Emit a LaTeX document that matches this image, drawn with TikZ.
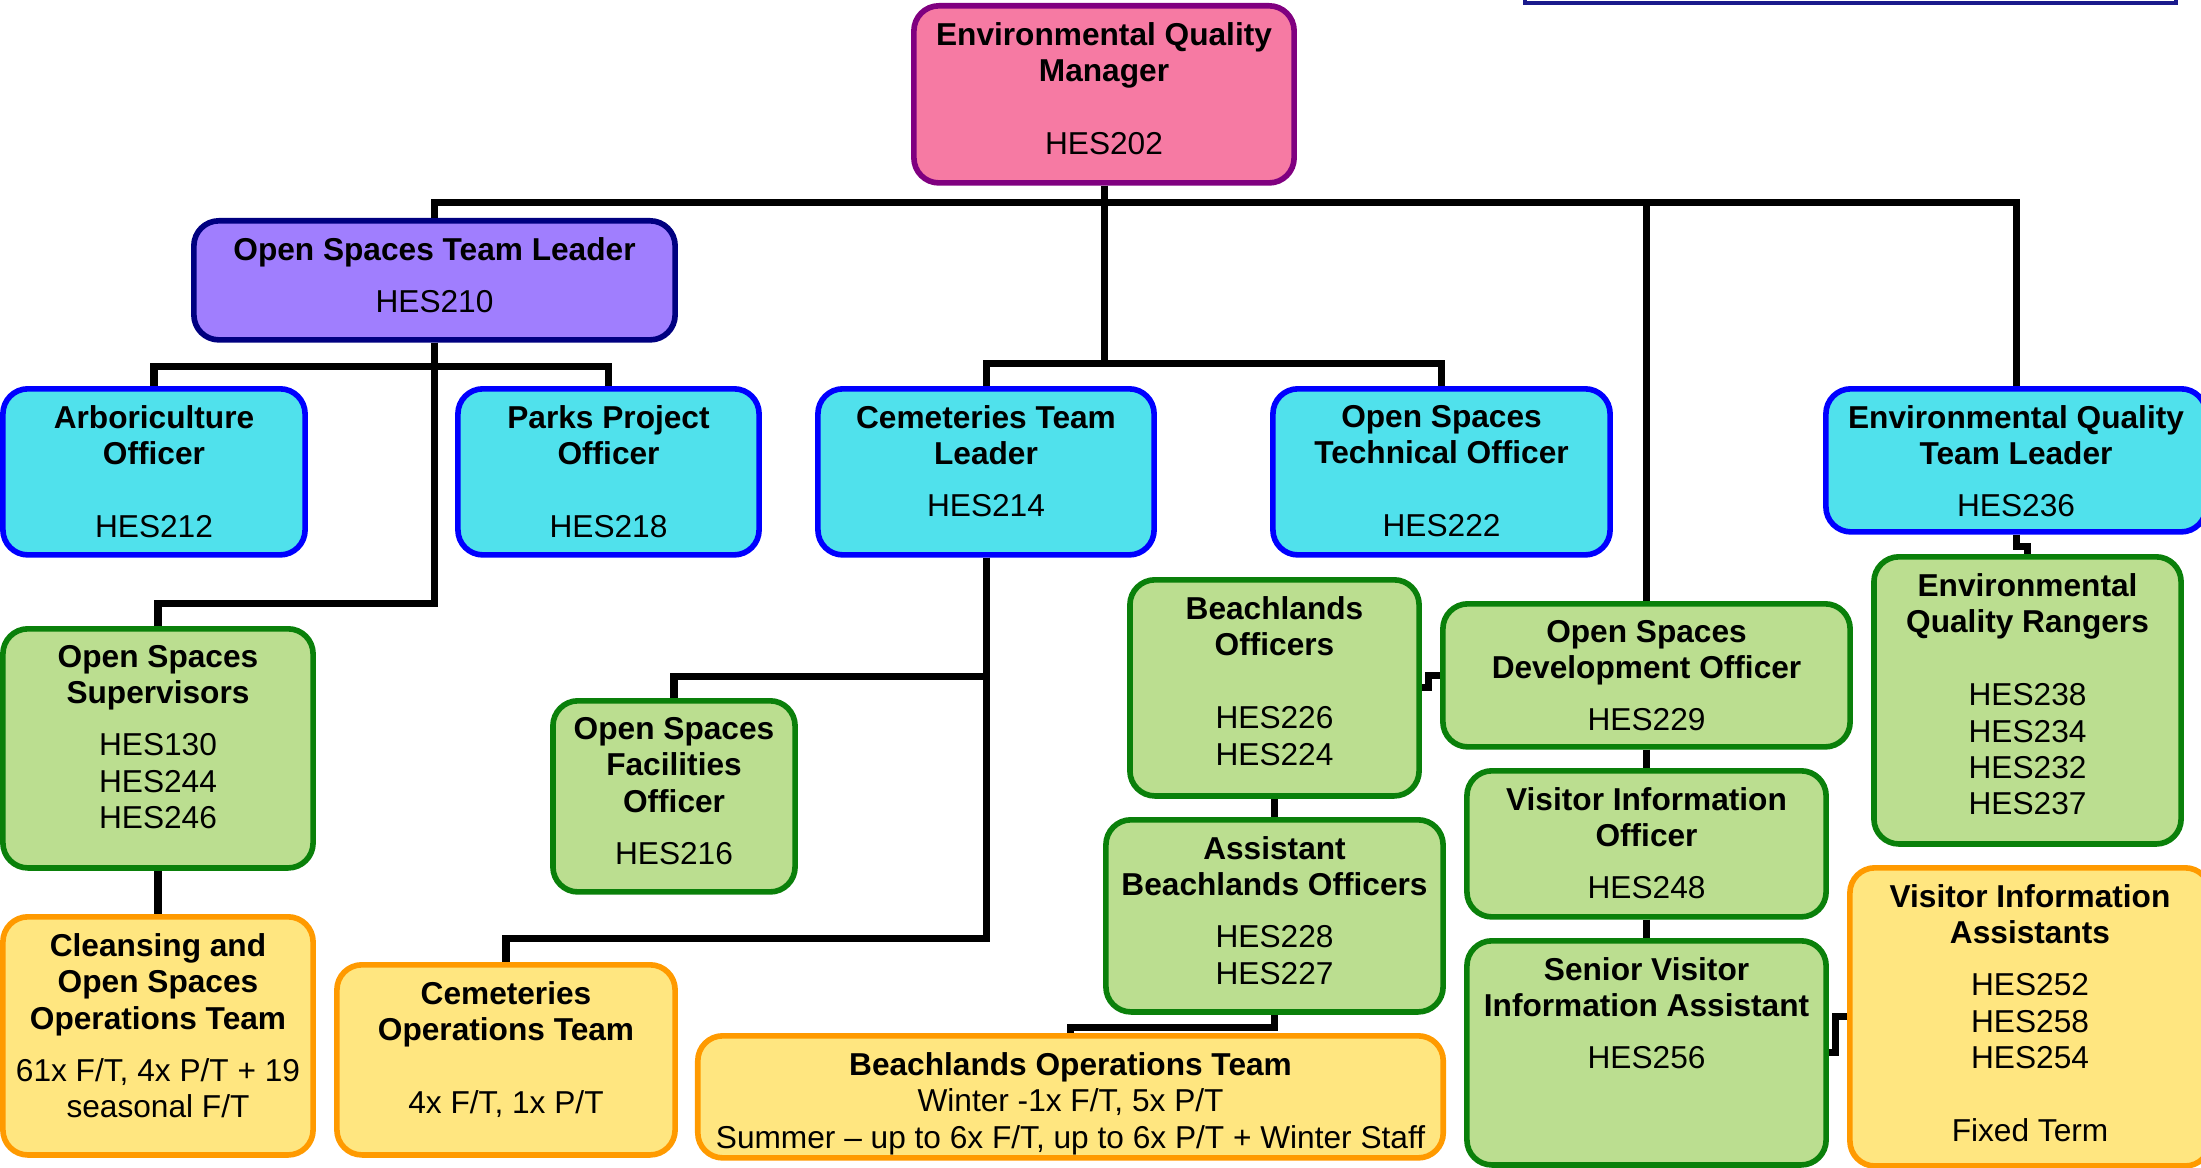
\documentclass[tikz,border=0pt]{standalone}
\usepackage{fontspec}
\setmainfont{Liberation Sans}
\definecolor{mgrfill}{HTML}{F67AA3}
\definecolor{mgrline}{HTML}{800080}
\definecolor{leadfill}{HTML}{A07EFE}
\definecolor{leadline}{HTML}{000080}
\definecolor{postfill}{HTML}{50E1EC}
\definecolor{postline}{HTML}{0000FF}
\definecolor{stafffill}{HTML}{BBDE90}
\definecolor{staffline}{HTML}{0A800A}
\definecolor{teamfill}{HTML}{FFE680}
\definecolor{teamline}{HTML}{FF9A00}
\definecolor{keyline}{HTML}{1A1A8C}
\newcommand{\orgtext}[3]{\parbox[t][#2][t]{#1}{\centering\vspace*{0.165cm}#3}}

\begin{document}
\begin{tikzpicture}[x=0.01cm, y=0.01cm]
    \tikzstyle{every node}+=[inner sep=0pt, font=\fontsize{9}{10.36}\selectfont]
    \tikzstyle{box}=[draw, rounded corners=0.25cm, line width=1.6pt, anchor=north]
    \tikzstyle{mgr}=[box, draw=mgrline, fill=mgrfill]
    \tikzstyle{lead}=[box, draw=leadline, fill=leadfill]
    \tikzstyle{post}=[box, draw=postline, fill=postfill]
    \tikzstyle{staff}=[box, draw=staffline, fill=stafffill]
    \tikzstyle{team}=[box, draw=teamline, fill=teamfill]
    \tikzstyle{link}=[line width=2pt, black]
    \useasboundingbox (0,0) rectangle (2201,-1167);
    % top row
    \node [mgr] (eqm) at (1104,-3) {\orgtext{3.80cm}{1.77cm}{\textbf{Environmental Quality\\Manager}\\[0.365cm]HES202}};
    \node [lead] (ostl) at (434.5,-218) {\orgtext{4.81cm}{1.19cm}{\textbf{Open Spaces Team Leader}\\[0.155cm]HES210}};
    % second row
    \node [post] (arb) at (154,-386) {\orgtext{3.02cm}{1.66cm}{\textbf{Arboriculture\\Officer}\\[0.365cm]HES212}};
    \node [post] (parks) at (608.5,-386) {\orgtext{3.01cm}{1.66cm}{\textbf{Parks Project\\Officer}\\[0.365cm]HES218}};
    \node [post] (ctl) at (986,-386) {\orgtext{3.36cm}{1.66cm}{\textbf{Cemeteries Team\\Leader}\\[0.155cm]HES214}};
    \node [post] (osto) at (1441.5,-386) {\orgtext{3.37cm}{1.66cm}{\textbf{Open Spaces\\Technical Officer}\\[0.365cm]HES222}};
    \node [post] (eqtl) at (2016,-386) {\orgtext{3.80cm}{1.43cm}{\textbf{Environmental Quality\\Team Leader}\\[0.155cm]HES236}};
    % officers
    \node [staff] (eqr) at (2027.5,-554) {\orgtext{3.07cm}{2.87cm}{\textbf{Environmental\\Quality Rangers}\\[0.365cm]HES238\\HES234\\HES232\\HES237}};
    \node [staff] (oss) at (158,-626) {\orgtext{3.10cm}{2.39cm}{\textbf{Open Spaces\\Supervisors}\\[0.155cm]HES130\\HES244\\HES246}};
    \node [staff] (osfo) at (674,-698) {\orgtext{2.42cm}{1.91cm}{\textbf{Open Spaces\\Facilities\\Officer}\\[0.155cm]HES216}};
    \node [staff] (bo) at (1274.5,-577) {\orgtext{2.89cm}{2.16cm}{\textbf{Beachlands\\Officers}\\[0.365cm]HES226\\HES224}};
    \node [staff] (abo) at (1274.5,-817) {\orgtext{3.37cm}{1.92cm}{\textbf{Assistant\\Beachlands Officers}\\[0.155cm]HES228\\HES227}};
    \node [staff] (osdo) at (1646.5,-601) {\orgtext{4.07cm}{1.43cm}{\textbf{Open Spaces\\Development Officer}\\[0.155cm]HES229}};
    \node [staff] (vio) at (1646.5,-768) {\orgtext{3.59cm}{1.46cm}{\textbf{Visitor Information\\Officer}\\[0.155cm]HES248}};
    \node [staff] (svia) at (1646.5,-938) {\orgtext{3.59cm}{2.24cm}{\textbf{Senior Visitor\\Information Assistant}\\[0.155cm]HES256}};
    % teams
    \node [team] (clean) at (158,-914) {\orgtext{3.10cm}{2.38cm}{\textbf{Cleansing and\\Open Spaces\\Operations Team}\\[0.155cm]61x F/T, 4x P/T + 19\\seasonal F/T}};
    \node [team] (cemops) at (506,-962) {\orgtext{3.38cm}{1.90cm}{\textbf{Cemeteries\\Operations Team}\\[0.365cm]4x F/T, 1x P/T}};
    \node [team] (bot) at (1070.5,-1033) {\orgtext{7.45cm}{1.22cm}{\textbf{Beachlands Operations Team}\\Winter -1x F/T, 5x P/T\\Summer – up to 6x F/T, up to 6x P/T + Winter Staff}};
    \node [team] (via) at (2030,-865) {\orgtext{3.60cm}{2.98cm}{\textbf{Visitor Information\\Assistants}\\[0.155cm]HES252\\HES258\\HES254\\[0.365cm]Fixed Term}};
    % links
    \draw [link] (eqm.south) -- ++(0,-17) -| (ostl.north);
    \draw [link] (eqm.south) ++(0,-17) -| (eqtl.north);
    \draw [link] (eqm.south) ++(0,-17) -| (osdo.north);
    \draw [link] (eqm.south) -- ++(0,-178) -| (ctl.north);
    \draw [link] (eqm.south) ++(0,-178) -| (osto.north);
    \draw [link] (ostl.south) -- ++(0,-24) -| (arb.north);
    \draw [link] (ostl.south) ++(0,-24) -| (parks.north);
    \draw [link] (ostl.south) -- ++(0,-261) -| (oss.north);
    \draw [link] (oss.south) -- (clean.north);
    \draw [link] (ctl.south) -- ++(0,-119) -| (osfo.north);
    \draw [link] (ctl.south) -- ++(0,-381) -| (cemops.north);
    \draw [link] (eqtl.south) -- ++(0,-12) -| (eqr.north);
    \draw [link] (osdo.west) -- ++(-12,0) |- (bo.east);
    \draw [link] (bo.south) -- (abo.north);
    \draw [link] (abo.south) -- ++(0,-13) -| (bot.north);
    \draw [link] (osdo.south) -- (vio.north);
    \draw [link] (vio.south) -- (svia.north);
    \draw [link] (via.west) -- ++(-12,0) |- (svia.east);
    % edge of the key box
    \draw [keyline, line width=1pt] (1525,0) -- (1525,-3) -- (2176,-3) -- (2176,0);
\end{tikzpicture}
\end{document}
